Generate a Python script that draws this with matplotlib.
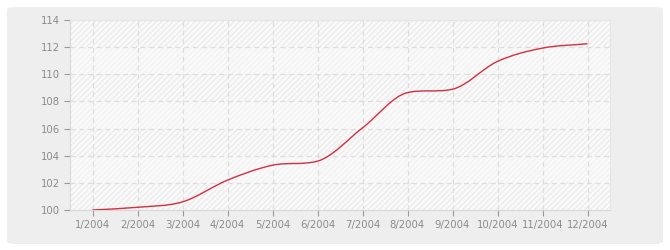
import matplotlib
matplotlib.use("Agg")
import matplotlib.pyplot as plt
import numpy as np
from matplotlib.patches import FancyBboxPatch, PathPatch, Rectangle
from matplotlib.path import Path

months = ["1/2004", "2/2004", "3/2004", "4/2004", "5/2004", "6/2004",
          "7/2004", "8/2004", "9/2004", "10/2004", "11/2004", "12/2004"]
values = [100.0, 100.2, 100.6, 102.2, 103.3, 103.6,
          106.05, 108.65, 108.9, 110.95, 111.93, 112.25]
y_ticks = [100, 102, 104, 106, 108, 110, 112, 114]


def smooth_path(x, y):
    # bezier segments, tangents = mean slope, clipped to stay monotone
    x = np.asarray(x, float)
    y = np.asarray(y, float)
    h = np.diff(x)
    d = np.diff(y) / h
    m = np.zeros_like(y)
    m[0], m[-1] = d[0], d[-1]
    for i in range(1, len(y) - 1):
        if d[i - 1] * d[i] <= 0:
            m[i] = 0
        else:
            m[i] = min((d[i - 1] + d[i]) / 2, 3 * min(d[i - 1], d[i]))
    verts = [(x[0], y[0])]
    codes = [Path.MOVETO]
    for i in range(len(x) - 1):
        verts += [(x[i] + h[i] / 3, y[i] + m[i] * h[i] / 3),
                  (x[i + 1] - h[i] / 3, y[i + 1] - m[i + 1] * h[i] / 3),
                  (x[i + 1], y[i + 1])]
        codes += [Path.CURVE4] * 3
    return Path(verts, codes)


fig = plt.figure(figsize=(6.7, 2.5), dpi=100)
fig.patch.set_facecolor("white")
bg = FancyBboxPatch((7 / 670, 6 / 250), 656 / 670, 237 / 250,
                    boxstyle="round,pad=0,rounding_size=0.012",
                    transform=fig.transFigure, facecolor="#eeeeee",
                    edgecolor="none", zorder=-10)
fig.add_artist(bg)

ax = fig.add_axes([70 / 670, 40 / 250, 540 / 670, 190 / 250])
ax.set_facecolor("#fafafa")
x = np.arange(len(months))
ax.set_xlim(-0.5, len(months) - 0.5)
ax.set_ylim(100, 114)

# hatched background bands
for i, y0 in enumerate(y_ticks[:-1]):
    ax.add_patch(Rectangle((-0.5, y0), len(months), 2, facecolor="none",
                           edgecolor="#ececec" if i % 2 == 0 else "#f2f2f2",
                           hatch="//////", linewidth=0, zorder=0))

ax.add_patch(PathPatch(smooth_path(x, values), facecolor="none",
                       edgecolor="#d42f3f", linewidth=1.0, zorder=3))

ax.set_xticks(x)
ax.set_xticklabels(months)
ax.set_yticks(y_ticks)
ax.grid(True, color="#dedede", linestyle=(0, (4, 3)), linewidth=0.9, zorder=1)
ax.set_axisbelow(True)
for s in ["top", "right"]:
    ax.spines[s].set_color("#e6e6e6")
for s in ["left", "bottom"]:
    ax.spines[s].set_color("#d8d8d8")
ax.tick_params(colors="#999999", labelcolor="#8c8c8c", labelsize=7.3,
               length=4, width=0.8, pad=3)

fig.savefig("out.png", dpi=100, facecolor="white")
